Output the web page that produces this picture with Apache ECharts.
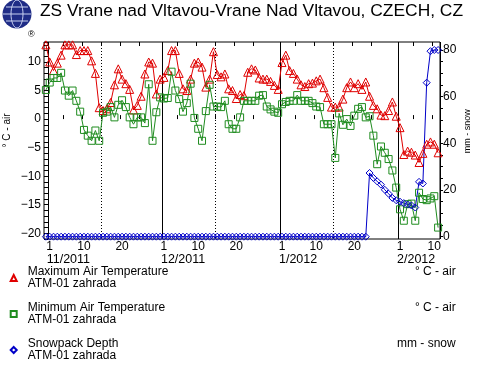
<!DOCTYPE html>
<html><head><meta charset="utf-8">
<script src="https://cdn.jsdelivr.net/npm/echarts@6/dist/echarts.min.js"></script>
<style>html,body{margin:0;padding:0;background:#fff}#c{width:480px;height:368px}</style>
</head><body><div id="c"></div>
<script>
// ---- data (daily, 31 Oct 2011 .. 11 Feb 2012) ----
const startDay = [2011, 10, 31];
const tmax = [13.0,10.0,8.5,9.8,11.2,13.0,13.0,13.0,11.3,12.0,12.0,12.0,10.2,8.0,2.0,1.5,1.8,2.9,6.0,8.8,7.0,6.2,5.2,1.6,2.4,4.0,7.9,10.0,9.8,4.4,7.0,
  7.3,8.5,12.0,12.0,8.0,5.3,5.0,7.0,9.8,10.0,9.1,5.6,7.0,11.8,7.8,7.4,7.9,5.3,5.0,3.6,4.3,4.1,8.2,8.8,8.6,7.2,7.0,7.0,6.6,5.9,5.2,
  9.9,11.2,8.5,8.0,7.0,6.0,5.7,6.2,6.3,6.7,7.0,5.5,3.8,2.1,2.1,2.1,3.5,5.5,6.5,5.5,6.2,5.2,6.5,4.0,2.4,1.8,0.7,0.6,1.5,3.0,0.5,
  -1.5,-6.2,-5.6,-5.8,-6.3,-7.6,-6.0,-4.4,-4.0,-4.4,-5.9];
const tmin = [5.1,6.4,7.2,7.2,8.1,5.0,4.1,5.0,3.2,1.3,-1.9,-2.9,-3.8,-2.0,-3.8,1.1,1.3,2.1,0.3,2.5,3.3,2.1,0.3,-0.9,0.3,0.3,-0.7,6.1,-3.8,1.2,3.8,
  3.6,3.7,8.3,5.0,3.5,1.3,2.8,6.2,0.2,-1.7,-3.8,1.4,6.0,2.2,2.2,2.1,3.2,-0.9,-1.7,-1.7,0.3,3.2,3.2,3.2,3.2,4.1,4.2,2.2,1.7,1.3,1.1,
  2.6,3.0,3.2,3.2,4.2,3.2,3.2,3.2,2.8,2.2,2.1,-0.9,-0.9,-0.9,-6.8,1.0,-1.0,0.0,-1.2,0.6,1.8,2.1,0.3,0.5,-2.9,-7.9,-4.8,-5.9,-7.0,-9.0,-12.0,
  -15.8,-17.8,-14.9,-14.8,-17.8,-12.9,-14.0,-14.2,-13.9,-13.5,-19.0];
const snow = [0,0,0,0,0,0,0,0,0,0,0,0,0,0,0,0,0,0,0,0,0,0,0,0,0,0,0,0,0,0,0,
  0,0,0,0,0,0,0,0,0,0,0,0,0,0,0,0,0,0,0,0,0,0,0,0,0,0,0,0,0,0,0,
  0,0,0,0,0,0,0,0,0,0,0,0,0,0,0,0,0,0,0,0,0,0,0,27.3,25.2,23.7,22.3,20.1,18.4,16.6,15.6,
  15.0,14.4,13.8,13.4,12.5,23.5,22.8,66.0,79.5,80.0,80.0];
const dayTickLabels = [1, 10, 20];
const dayTickMarks = [5, 10, 15, 20, 25];
const monthLabels = ['11/2011', '12/2011', '1/2012', '2/2012'];
const seriesNames = ['Maximum Air Temperature', 'Minimum Air Temperature', 'Snowpack Depth'];
const seriesSource = 'ATM-01 zahrada';
const seriesUnits = ['° C - air', '° C - air', 'mm - snow'];

// ---- categories ----
const days = [];
const t0 = Date.UTC(startDay[0], startDay[1] - 1, startDay[2]);
for (let i = 0; i < tmax.length; i++) {
  const d = new Date(t0 + i * 86400000);
  days.push(d.getUTCFullYear() + '-' + (d.getUTCMonth() + 1) + '-' + d.getUTCDate());
}
const dom = s => +s.split('-')[2];
const monthOf = {};
let mk = 0;
days.forEach(d => { if (dom(d) === 1) monthOf[d] = monthLabels[mk++]; });

const FONT = '"Liberation Sans", Arial, Helvetica, sans-serif';
const RED = '#e00000', GREEN = '#1f8c1f', BLUE = '#0000c8';
const minus = v => String(v).replace('-', '\u2212');

const chart = echarts.init(document.getElementById('c'), null, {renderer: 'canvas'});
const G0 = {left: 44, right: 40, top: 42, bottom: 129};
const G1 = {left: 44, right: 40, top: 50, bottom: 131.3};

chart.setOption({
  animation: false,
  backgroundColor: '#fff',
  textStyle: {fontFamily: FONT},
  title: {
    text: 'ZS Vrane nad Vltavou-Vrane Nad Vltavou, CZECH, CZ',
    left: 40, top: 3, padding: 0,
    textStyle: {fontFamily: FONT, fontSize: 17.4, fontWeight: 'normal', color: '#000'}
  },
  graphic: [
    {type: 'circle', shape: {cx: 17, cy: 14, r: 14.5}, style: {fill: '#1f2c86'}},
    {type: 'ellipse', shape: {cx: 17, cy: 14, rx: 6, ry: 14}, style: {fill: 'none', stroke: '#c8d0f0', lineWidth: 1}},
    {type: 'line', shape: {x1: 3, y1: 14, x2: 31, y2: 14}, style: {stroke: '#c8d0f0', lineWidth: 1}},
    {type: 'line', shape: {x1: 6, y1: 7, x2: 28, y2: 7}, style: {stroke: '#c8d0f0', lineWidth: 1}},
    {type: 'line', shape: {x1: 6, y1: 21, x2: 28, y2: 21}, style: {stroke: '#c8d0f0', lineWidth: 1}},
    {type: 'text', left: 28, top: 30, style: {text: '®', fontSize: 9, fill: '#000', fontFamily: FONT}}
  ],
  legend: {
    orient: 'vertical', left: 9.7, top: 266, padding: 0, itemGap: 12,
    itemWidth: 6, itemHeight: 6,
    data: [
      {name: seriesNames[0], icon: 'triangle'},
      {name: seriesNames[1], icon: 'rect'},
      {name: seriesNames[2], icon: 'diamond'}
    ],
    formatter: name => {
      const k = seriesNames.indexOf(name);
      return '{n|' + name + '}{u|' + seriesUnits[k] + '}\n{n|' + seriesSource + '}';
    },
    textStyle: {
      fontFamily: FONT, fontSize: 12, color: '#000', width: 434, lineHeight: 12,
      rich: {
        n: {fontFamily: FONT, fontSize: 12, color: '#000', lineHeight: 12, padding: [0, 0, 0, 6]},
        u: {fontFamily: FONT, fontSize: 12, color: '#000', lineHeight: 12, align: 'right'}
      }
    }
  },
  grid: [
    Object.assign({show: true, borderColor: '#000', borderWidth: 1, backgroundColor: 'transparent',
      containLabel: false, outerBoundsMode: 'none'}, G0),
    Object.assign({show: false, containLabel: false, outerBoundsMode: 'none'}, G1)
  ],
  xAxis: [
    {
      type: 'category', gridIndex: 0, data: days, boundaryGap: true, position: 'bottom',
      axisLine: {show: false},
      axisTick: {show: true, inside: true, length: 4, lineStyle: {color: '#000'},
        interval: (i, v) => dayTickMarks.indexOf(dom(v)) >= 0},
      axisLabel: {show: true, margin: 2, fontSize: 12, color: '#000', fontFamily: FONT,
        interval: (i, v) => dayTickLabels.indexOf(dom(v)) >= 0,
        formatter: v => String(dom(v))},
      splitLine: {show: true, lineStyle: {color: '#000', width: 1, type: 'solid'},
        interval: (i, v) => dom(v) === 1 && i > 0}
    },
    {
      type: 'category', gridIndex: 0, data: days, boundaryGap: true, position: 'top',
      axisLine: {show: false},
      axisTick: {show: true, inside: true, length: 4, lineStyle: {color: '#000'},
        interval: (i, v) => dayTickMarks.indexOf(dom(v)) >= 0},
      axisLabel: {show: false},
      splitLine: {show: true, lineStyle: {color: '#000', width: 1, type: [1, 2]},
        interval: (i, v) => dom(v) === 15}
    },
    {
      type: 'category', gridIndex: 0, data: days, boundaryGap: true, position: 'bottom', offset: 12,
      axisLine: {show: false}, axisTick: {show: false}, splitLine: {show: false},
      axisLabel: {show: true, margin: 2, fontSize: 12.5, color: '#000', fontFamily: FONT, align: 'left',
        interval: (i, v) => dom(v) === 1,
        formatter: v => monthOf[v] || '', padding: [0, 0, 0, -3]}
    },
    {
      type: 'category', gridIndex: 1, data: days, boundaryGap: true, show: false
    }
  ],
  yAxis: [
    {
      type: 'value', gridIndex: 0, position: 'left', min: -21, max: 13.5, interval: 1,
      axisLine: {show: false},
      axisTick: {show: true, inside: true, length: 4, lineStyle: {color: '#000'}},
      axisLabel: {fontSize: 12, color: '#000', fontFamily: FONT, margin: 3,
        formatter: v => (v % 5 === 0 ? minus(v) : '')},
      splitLine: {show: false},
      name: '° C - air', nameLocation: 'middle', nameRotate: 90, nameGap: 32, nameMoveOverlap: false,
      nameTextStyle: {fontSize: 10, color: '#000', fontFamily: FONT, padding: [0, 0, 0, 20]}
    },
    {
      type: 'value', gridIndex: 1, position: 'right', min: 0, max: 80, interval: 5,
      axisLine: {show: false},
      axisTick: {show: true, inside: false, length: 3, lineStyle: {color: '#000'}},
      axisLabel: {fontSize: 12, color: '#000', fontFamily: FONT, margin: 3,
        formatter: v => (v % 20 === 0 ? String(v) : '')},
      splitLine: {show: false},
      name: 'mm - snow', nameLocation: 'middle', nameRotate: 90, nameGap: 23, nameMoveOverlap: false,
      nameTextStyle: {fontSize: 9, color: '#000', fontFamily: FONT, padding: [0, 0, 0, 24]}
    }
  ],
  series: [
    {
      name: seriesNames[0], type: 'line', xAxisIndex: 0, yAxisIndex: 0, data: tmax,
      symbol: 'triangle', symbolSize: 8, showAllSymbol: true,
      itemStyle: {color: 'rgba(255,255,255,0)', borderColor: RED, borderWidth: 1},
      lineStyle: {color: RED, width: 1}, emphasis: {disabled: true}
    },
    {
      name: seriesNames[1], type: 'line', xAxisIndex: 0, yAxisIndex: 0, data: tmin,
      symbol: 'rect', symbolSize: 7, showAllSymbol: true,
      itemStyle: {color: 'rgba(255,255,255,0)', borderColor: GREEN, borderWidth: 1},
      lineStyle: {color: GREEN, width: 1}, emphasis: {disabled: true}
    },
    {
      name: seriesNames[2], type: 'line', xAxisIndex: 3, yAxisIndex: 1, data: snow,
      symbol: 'diamond', symbolSize: 7, showAllSymbol: true, clip: false,
      itemStyle: {color: 'rgba(255,255,255,0)', borderColor: BLUE, borderWidth: 1},
      lineStyle: {color: BLUE, width: 1}, emphasis: {disabled: true}
    }
  ]
});
</script>
</body></html>
